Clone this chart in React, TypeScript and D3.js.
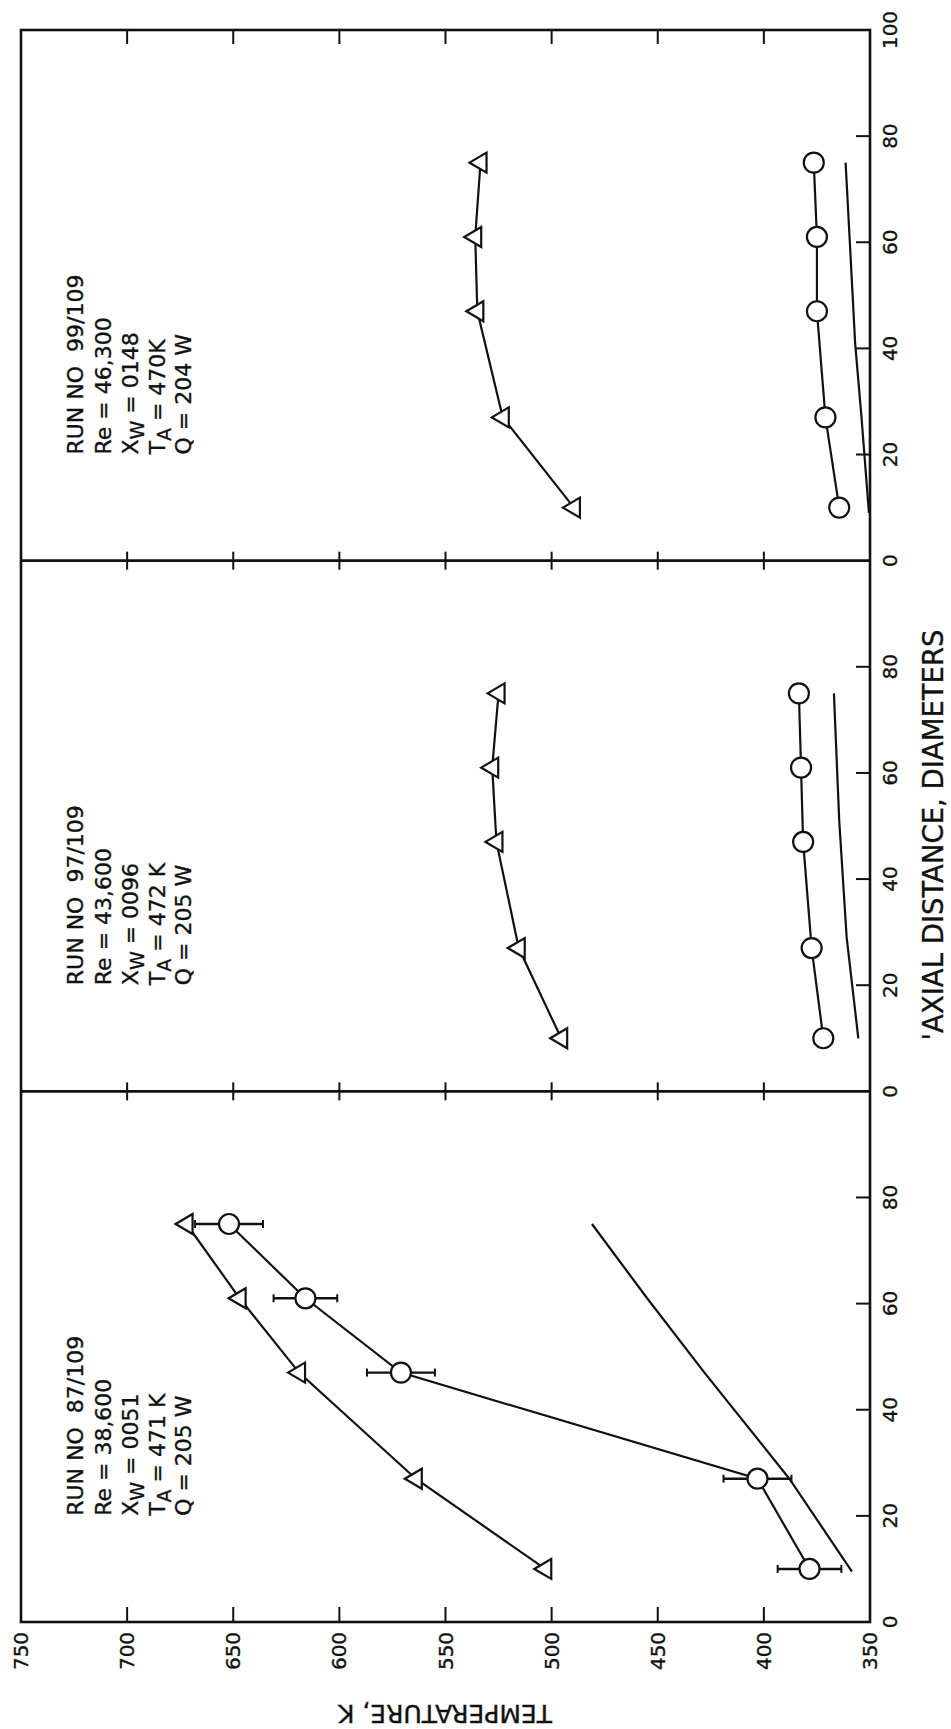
import React from 'react';
import * as d3 from 'd3';

// ---- data ----
const tempTicks = [750, 700, 650, 600, 550, 500, 450, 400, 350];
const axialTicksTop = [100, 80, 60, 40, 20, 0];
const axialTicks = [80, 60, 40, 20, 0];

// axial stations (diameters)
const stations = [10, 27, 47, 61, 75];

// Panel order: top -> bottom
const runNames = ['RUN NO  99/109', 'RUN NO  97/109', 'RUN NO  87/109'];
const reValues = ['46,300', '43,600', '38,600'];
const xwValues = ['0148', '0096', '0051'];
const taValues = ['470K', '472 K', '471 K'];
const qValues = ['204 W', '205 W', '205 W'];

// triangles (temperature, K)
const triTop = [489.5, 523, 535, 536, 533.5];
const triMid = [495.5, 515.5, 526, 528, 525];
const triBot = [503, 564, 619, 647, 672];

// circles (temperature, K)
const circTop = [364.5, 371, 375, 375, 376.5];
const circMid = [372, 377.5, 381.5, 382.5, 383.5];
const circBot = [378.5, 403, 571, 616, 652];

// error half-widths (K) for bottom panel circles
const errBot = [15, 16, 16, 15, 16];

// plain curves
const curveTopZ = [9, 27, 41, 60, 75];
const curveTopT = [350.5, 354, 357, 359.5, 361.5];
const curveMidZ = [10, 29, 51, 75];
const curveMidT = [355.5, 361, 364.5, 367];
const curveBotZ = [9.5, 27, 47, 61, 75];
const curveBotT = [358.5, 388, 428, 455, 481];

const W = 951;
const H = 1729;
const left = 21, right = 870, top = 30, bottom = 1622;
const panelH = (bottom - top) / 3;
const FONT = '"DejaVu Sans", Arial, sans-serif';

const xT = d3.scaleLinear().domain([750, 350]).range([left, right]);

function panelScale(i: number) {
  const t = top + i * panelH;
  return d3.scaleLinear().domain([0, 100]).range([t + panelH, t]);
}

const panels = [
  { tri: triTop, circ: circTop, err: null as number[] | null, cz: curveTopZ, ct: curveTopT },
  { tri: triMid, circ: circMid, err: null as number[] | null, cz: curveMidZ, ct: curveMidT },
  { tri: triBot, circ: circBot, err: errBot, cz: curveBotZ, ct: curveBotT },
];

export default function App() {
  const stroke = '#111';
  const ts = { stroke: stroke, strokeWidth: 0.35 };
  return (
    <div style={{ position: 'absolute', left: 0, top: 0 }}>
      <svg width={W} height={H} style={{ display: 'block', background: '#fff' }} fontFamily={FONT}>
        <rect x={0} y={0} width={W} height={H} fill="#fff" />
        {/* frame */}
        <rect x={left} y={top} width={right - left} height={bottom - top} fill="none" stroke={stroke} strokeWidth={2.6} />
        {[1, 2].map(i => (
          <line key={'div' + i} x1={left} x2={right} y1={top + i * panelH} y2={top + i * panelH} stroke={stroke} strokeWidth={2.6} />
        ))}
        {/* temperature ticks */}
        {tempTicks.filter(t => t !== 750 && t !== 350).map(t => (
          <g key={'tt' + t}>
            <line x1={xT(t)} x2={xT(t)} y1={top} y2={top + 14} stroke={stroke} strokeWidth={2} />
            <line x1={xT(t)} x2={xT(t)} y1={top + panelH - 9} y2={top + panelH + 9} stroke={stroke} strokeWidth={2} />
            <line x1={xT(t)} x2={xT(t)} y1={top + 2 * panelH - 9} y2={top + 2 * panelH + 9} stroke={stroke} strokeWidth={2} />
            <line x1={xT(t)} x2={xT(t)} y1={bottom} y2={bottom - 15} stroke={stroke} strokeWidth={2} />
          </g>
        ))}
        {tempTicks.map(t => (
          <text key={'tl' + t} transform={`translate(${xT(t)},${bottom + 29}) rotate(-90)`} textAnchor="middle" dominantBaseline="central" fontSize={20} fill={stroke} {...ts}>{t}</text>
        ))}
        {/* axial ticks & labels */}
        {panels.map((p, i) => {
          const y = panelScale(i);
          const labels = i === 0 ? axialTicksTop : axialTicks;
          return (
            <g key={'ax' + i}>
              {[20, 40, 60, 80].map(z => (
                <line key={'at' + z} x1={right - 14} x2={right} y1={y(z)} y2={y(z)} stroke={stroke} strokeWidth={2} />
              ))}
              {labels.map(z => (
                <text key={'al' + z} transform={`translate(${right + 20},${y(z)}) rotate(-90)`} textAnchor="middle" dominantBaseline="central" fontSize={20} fill={stroke} {...ts}>{z}</text>
              ))}
            </g>
          );
        })}
        {/* data */}
        {panels.map((p, i) => {
          const y = panelScale(i);
          const line = d3.line<[number, number]>().x(d => xT(d[1])).y(d => y(d[0]));
          const triPts: [number, number][] = stations.map((z, k) => [z, p.tri[k]]);
          const cirPts: [number, number][] = stations.map((z, k) => [z, p.circ[k]]);
          const curPts: [number, number][] = p.cz.map((z, k) => [z, p.ct[k]]);
          return (
            <g key={'d' + i}>
              <path d={line(curPts) || ''} fill="none" stroke={stroke} strokeWidth={2.2} />
              <path d={line(triPts) || ''} fill="none" stroke={stroke} strokeWidth={2.2} />
              <path d={line(cirPts) || ''} fill="none" stroke={stroke} strokeWidth={2.2} />
              {p.err && cirPts.map((d, k) => {
                const cy = y(d[0]);
                const x1 = xT(d[1] + p.err![k]);
                const x2 = xT(d[1] - p.err![k]);
                return (
                  <g key={'e' + k}>
                    <line x1={x1} x2={x2} y1={cy} y2={cy} stroke={stroke} strokeWidth={2.4} />
                    <line x1={x1} x2={x1} y1={cy - 4} y2={cy + 4} stroke={stroke} strokeWidth={2} />
                    <line x1={x2} x2={x2} y1={cy - 4} y2={cy + 4} stroke={stroke} strokeWidth={2} />
                  </g>
                );
              })}
              {triPts.map((d, k) => {
                const cx = xT(d[1]);
                const cy = y(d[0]);
                return (
                  <path key={'tr' + k} d={`M${cx - 11},${cy} L${cx + 6},${cy - 10} L${cx + 6},${cy + 10} Z`} fill="#fff" stroke={stroke} strokeWidth={2.2} />
                );
              })}
              {cirPts.map((d, k) => (
                <circle key={'c' + k} cx={xT(d[1])} cy={y(d[0])} r={10} fill="#fff" stroke={stroke} strokeWidth={2.2} />
              ))}
            </g>
          );
        })}
        {/* annotations */}
        {panels.map((p, i) => {
          const y = panelScale(i);
          const y0 = y(20);
          const xs = [83, 111, 138, 165, 191];
          const fs = 22;
          return (
            <g key={'an' + i} fontSize={fs} fill={stroke} {...ts}>
              <text xmlSpace="preserve" transform={`translate(${xs[0]},${y0}) rotate(-90)`}>{runNames[i]}</text>
              <text xmlSpace="preserve" transform={`translate(${xs[1]},${y0}) rotate(-90)`}>{'Re = ' + reValues[i]}</text>
              <text xmlSpace="preserve" transform={`translate(${xs[2]},${y0}) rotate(-90)`}>X<tspan dy={6} fontSize={19}>W</tspan><tspan dy={-6}>{' = ' + xwValues[i]}</tspan></text>
              <text xmlSpace="preserve" transform={`translate(${xs[3]},${y0}) rotate(-90)`}>T<tspan dy={6} fontSize={19}>A</tspan><tspan dy={-6}>{' = ' + taValues[i]}</tspan></text>
              <text xmlSpace="preserve" transform={`translate(${xs[4]},${y0}) rotate(-90)`}>{'Q = ' + qValues[i]}</text>
            </g>
          );
        })}
        {/* axis titles */}
        <text transform={`translate(445,1713) rotate(180)`} textAnchor="middle" dominantBaseline="central" fontSize={25} fill={stroke} {...ts}>TEMPERATURE, K</text>
        <text transform={`translate(933,835) rotate(-90)`} textAnchor="middle" dominantBaseline="central" fontSize={27.5} fill={stroke} {...ts}>'AXIAL DISTANCE, DIAMETERS</text>
      </svg>
    </div>
  );
}
